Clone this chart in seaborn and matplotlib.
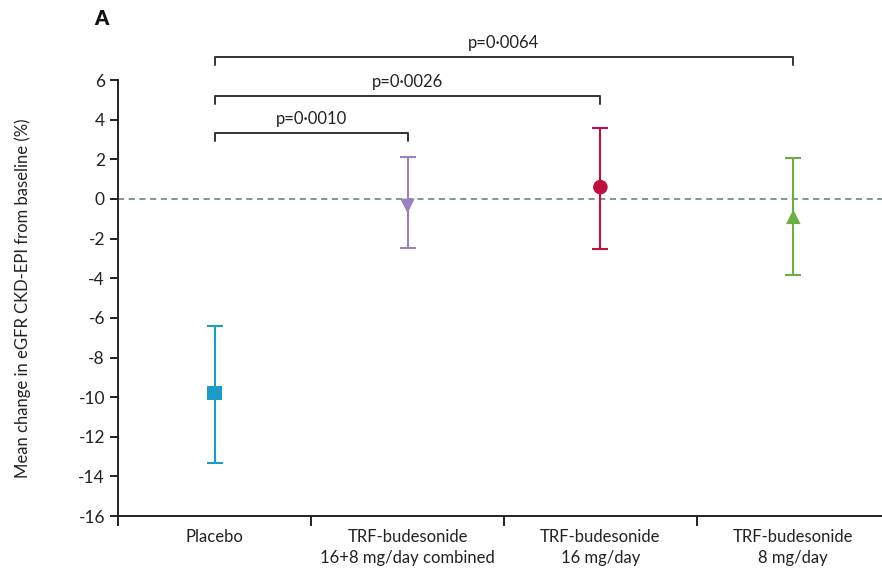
import pandas as pd
import seaborn as sns
import matplotlib.pyplot as plt

# Data
groups = ["Placebo", "TRF-budesonide\n16+8 mg/day combined",
          "TRF-budesonide\n16 mg/day", "TRF-budesonide\n8 mg/day"]
means = [-9.8, -0.35, 0.6, -0.9]
ci_low = [-13.3, -2.45, -2.5, -3.85]
ci_high = [-6.4, 2.1, 3.6, 2.05]
colors = ["#1a9cc4", "#9b80c0", "#c0103e", "#6aae45"]
markers = ["s", "v", "o", "^"]

# comparisons vs placebo: (target index, p-value text, bracket height)
comparisons = [(1, "p=0·0010", 3.35), (2, "p=0·0026", 5.2), (3, "p=0·0064", 7.15)]

df = pd.DataFrame({"group": groups, "x": range(len(groups)), "mean": means,
                   "lo": ci_low, "hi": ci_high})

sns.set_style("ticks")
plt.rcParams["font.family"] = ["Lato", "DejaVu Sans"]
plt.rcParams["axes.unicode_minus"] = False

fig = plt.figure(figsize=(8.82, 5.68), dpi=100)
ax = fig.add_axes([0.134, 0.0915, 0.866, 0.7675])

ax.axhline(0, color="#5d7b7b", lw=1.1, ls=(0, (4, 3)), zorder=1)

for i, row in df.iterrows():
    ax.errorbar(row["x"], row["mean"],
                yerr=[[row["mean"] - row["lo"]], [row["hi"] - row["mean"]]],
                fmt="none", ecolor=colors[i], elinewidth=1.5, capsize=6,
                capthick=1.5, zorder=2)

sns.scatterplot(data=df, x="x", y="mean", hue="group", style="group",
                palette=dict(zip(groups, colors)),
                markers=dict(zip(groups, markers)),
                s=110, edgecolor="none", legend=False, zorder=3, ax=ax)

# p-value brackets
for j, ptxt, h in comparisons:
    ax.plot([0, 0, j, j], [h - 0.4, h, h, h - 0.4], color="#333333", lw=1.4,
            clip_on=False)
    ax.text((0 + j) / 2, h + 0.3, ptxt, ha="center", va="bottom",
            fontsize=12, color="#222222")

ax.set_ylim(-16, 6)
ax.set_yticks(range(-16, 7, 2))
ax.set_xlim(-0.5, 3.46)
ax.set_xticks([-0.5, 0.5, 1.5, 2.5])
ax.set_xticklabels([])
ax.set_xticks(range(len(groups)), minor=True)
ax.set_xticklabels(groups, minor=True, fontsize=12, color="#222222",
                   linespacing=1.4)
ax.tick_params(axis="x", which="major", length=7, width=1.4, color="#222222")
ax.tick_params(axis="x", which="minor", length=0, pad=9)
ax.tick_params(axis="y", length=6, width=1.4, color="#222222",
               labelsize=12.5, labelcolor="#222222")
ax.set_xlabel("")
ax.set_ylabel("Mean change in eGFR CKD-EPI from baseline (%)", fontsize=12,
              color="#222222", labelpad=34)

sns.despine(ax=ax)
for sp in ["left", "bottom"]:
    ax.spines[sp].set_linewidth(1.4)
    ax.spines[sp].set_color("#222222")

fig.text(0.107, 0.968, "A", fontsize=14.5, fontweight="heavy", color="#111111",
         ha="left", va="center")

fig.savefig("out.png", dpi=100)
